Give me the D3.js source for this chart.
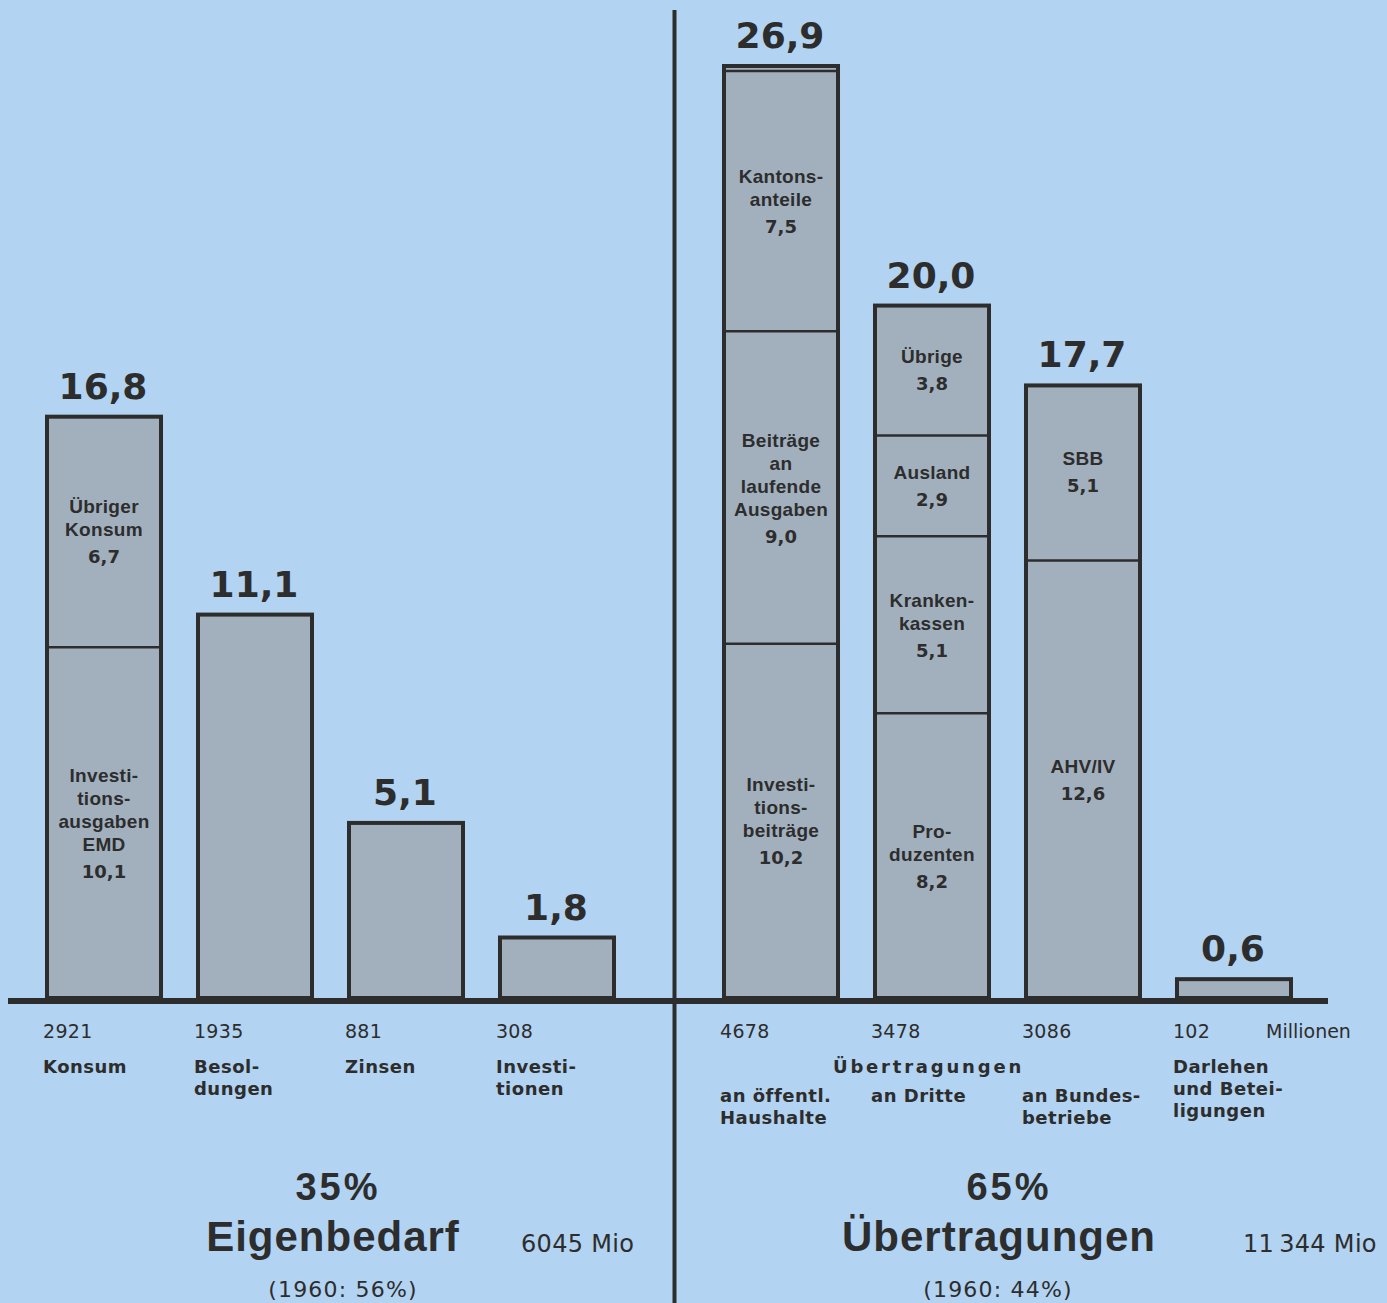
<!DOCTYPE html>
<html>
<head>
<meta charset="utf-8">
<script src="https://cdn.jsdelivr.net/npm/d3@7"></script>
<style>
  html, body { margin: 0; padding: 0; background: #b2d3f1; }
  svg { display: block; }
  text { font-family: "Liberation Sans", Arial, Helvetica, sans-serif; fill: #2d2d2d; }
  text.wide { font-family: "DejaVu Sans", "Liberation Sans", sans-serif; }
</style>
</head>
<body>
<svg id="chart" width="1387" height="1303"></svg>
<script>
// ---------- DATA ----------
const categoriesLeft = ["Konsum", "Besoldungen", "Zinsen", "Investitionen"];
const categoriesRight = ["Haushalte", "Dritte", "Bundesbetriebe", "Darlehen"];
const totals = {Konsum: 16.8, Besoldungen: 11.1, Zinsen: 5.1, Investitionen: 1.8,
                Haushalte: 26.9, Dritte: 20.0, Bundesbetriebe: 17.7, Darlehen: 0.6};
const millions = {Konsum: "2921", Besoldungen: "1935", Zinsen: "881", Investitionen: "308",
                  Haushalte: "4678", Dritte: "3478", Bundesbetriebe: "3086", Darlehen: "102"};
const categoryLabels = {
  Konsum: ["Konsum"], Besoldungen: ["Besol-", "dungen"], Zinsen: ["Zinsen"], Investitionen: ["Investi-", "tionen"],
  Haushalte: ["an öffentl.", "Haushalte"], Dritte: ["an Dritte"], Bundesbetriebe: ["an Bundes-", "betriebe"],
  Darlehen: ["Darlehen", "und Betei-", "ligungen"]
};
// stacked segments, bottom to top
const segmentValues = {
  Konsum: [10.1, 6.7], Besoldungen: [11.1], Zinsen: [5.1], Investitionen: [1.8],
  Haushalte: [10.2, 9.0, 7.5, 0.2], Dritte: [8.2, 5.1, 2.9, 3.8], Bundesbetriebe: [12.6, 5.1], Darlehen: [0.6]
};
const segmentLabels = {
  Konsum: [["Investi-", "tions-", "ausgaben", "EMD"], ["Übriger", "Konsum"]],
  Besoldungen: [null], Zinsen: [null], Investitionen: [null],
  Haushalte: [["Investi-", "tions-", "beiträge"], ["Beiträge", "an", "laufende", "Ausgaben"], ["Kantons-", "anteile"], null],
  Dritte: [["Pro-", "duzenten"], ["Kranken-", "kassen"], ["Ausland"], ["Übrige"]],
  Bundesbetriebe: [["AHV/IV"], ["SBB"]],
  Darlehen: [null]
};
const groupLabel = "Übertragungen";
const unitLabel = "Millionen";
const panelShare = ["35%", "65%"];
const panelTitle = ["Eigenbedarf", "Übertragungen"];
const panelAmount = ["6045 Mio", "11\u2009344 Mio"];
const panelCompare = ["(1960: 56%)", "(1960: 44%)"];

// ---------- LAYOUT ----------
const svg = d3.select("#chart");
const baseY = 998;
const ink = "#2d2d2d";
const barFill = "#a2b0be";
const fmt = v => d3.format(".1f")(v).replace(".", ",");

const y = d3.scaleLinear().domain([0, 26.9]).range([baseY, 64]);
const xLeft = d3.scaleBand().domain(categoriesLeft).range([45, 616]).paddingInner(0.2185).paddingOuter(0);
const xRight = d3.scaleBand().domain(categoriesRight).range([722, 1293]).paddingInner(0.2185).paddingOuter(0);
const xOf = c => (categoriesLeft.includes(c) ? xLeft : xRight);
const allCats = categoriesLeft.concat(categoriesRight);

// background
svg.append("rect").attr("width", 1387).attr("height", 1303).attr("fill", "#b2d3f1");

// bars
const bars = svg.append("g");
allCats.forEach(c => {
  const sx = xOf(c);
  const x0 = sx(c), bw = sx.bandwidth();
  const vals = segmentValues[c];
  const cum = [0].concat(Array.from(d3.cumsum(vals)));
  const total = totals[c];
  bars.append("rect")
    .attr("x", x0 + 2).attr("y", y(total) + 2)
    .attr("width", bw - 4).attr("height", y(0) - y(total) - 2)
    .attr("fill", barFill).attr("stroke", ink).attr("stroke-width", 4);
  vals.forEach((v, i) => {
    const yTop = y(cum[i + 1]), yBot = y(cum[i]);
    if (i < vals.length - 1) {
      bars.append("line")
        .attr("x1", x0 + 2).attr("x2", x0 + bw - 2)
        .attr("y1", yTop).attr("y2", yTop)
        .attr("stroke", ink).attr("stroke-width", 2.5);
    }
    const lines = segmentLabels[c][i];
    if (lines) {
      const n = lines.length;
      const mid = (yTop + yBot) / 2;
      const first = mid - ((n - 1) * 23 + 13) / 2;
      const cx = x0 + bw / 2;
      lines.forEach((t, k) => {
        bars.append("text")
          .attr("x", cx).attr("y", first + k * 23)
          .attr("text-anchor", "middle")
          .attr("font-size", 19).attr("font-weight", "bold")
          .attr("letter-spacing", 0.3)
          .attr("fill", "#333")
          .text(t);
      });
      bars.append("text").attr("class", "wide")
        .attr("x", cx).attr("y", first + (n - 1) * 23 + 27)
        .attr("text-anchor", "middle")
        .attr("font-size", 18).attr("font-weight", "bold")
        .attr("fill", "#2a2a2a")
        .text(fmt(v));
    }
  });
  // total label
  svg.append("text").attr("class", "wide")
    .attr("x", x0 + bw / 2 - 1).attr("y", y(total) - 16)
    .attr("text-anchor", "middle")
    .attr("font-size", 36).attr("font-weight", "bold")
    .attr("fill", ink)
    .text(fmt(total));
  // millions number
  svg.append("text").attr("class", "wide")
    .attr("x", x0 - 2).attr("y", 1038)
    .attr("font-size", 19).attr("letter-spacing", 0.3)
    .text(millions[c]);
  // category label
  const isLeft = categoriesLeft.includes(c);
  const labY = (isLeft || c === "Darlehen") ? 1073 : 1102;
  categoryLabels[c].forEach((t, k) => {
    svg.append("text").attr("class", "wide")
      .attr("x", x0 - 2).attr("y", labY + k * 22)
      .attr("font-size", 18).attr("font-weight", "bold")
      .attr("letter-spacing", 0.5)
      .text(t);
  });
});

// axis baseline and divider
svg.append("line").attr("x1", 8).attr("x2", 1328).attr("y1", 1001).attr("y2", 1001)
  .attr("stroke", ink).attr("stroke-width", 6);
svg.append("line").attr("x1", 674.5).attr("x2", 674.5).attr("y1", 10).attr("y2", 1303)
  .attr("stroke", ink).attr("stroke-width", 4);

// unit label
svg.append("text").attr("class", "wide").attr("x", 1266).attr("y", 1038)
  .attr("font-size", 19).text(unitLabel);

// group label over right categories
svg.append("text").attr("class", "wide")
  .attr("x", xRight("Dritte") - 40).attr("y", 1073)
  .attr("font-size", 18).attr("font-weight", "bold")
  .attr("letter-spacing", 2.8)
  .text(groupLabel);

// panel summaries
const panelCenter = [338, 1009];
const titleCenter = [333, 999];
const amountX = [521, 1243];
const compareCenter = [343, 998];
[0, 1].forEach(p => {
  svg.append("text").attr("x", panelCenter[p]).attr("y", 1200)
    .attr("text-anchor", "middle").attr("font-size", 38).attr("font-weight", "bold")
    .attr("letter-spacing", 3).text(panelShare[p]);
  svg.append("text").attr("x", titleCenter[p]).attr("y", 1251)
    .attr("text-anchor", "middle").attr("font-size", 42).attr("font-weight", "bold")
    .attr("letter-spacing", 1).text(panelTitle[p]);
  svg.append("text").attr("class", "wide").attr("x", amountX[p]).attr("y", 1252)
    .attr("font-size", 24).attr("letter-spacing", 0.3).text(panelAmount[p]);
  svg.append("text").attr("class", "wide").attr("x", compareCenter[p]).attr("y", 1297)
    .attr("text-anchor", "middle").attr("font-size", 22)
    .attr("letter-spacing", 1.2).text(panelCompare[p]);
});
</script>
</body>
</html>
